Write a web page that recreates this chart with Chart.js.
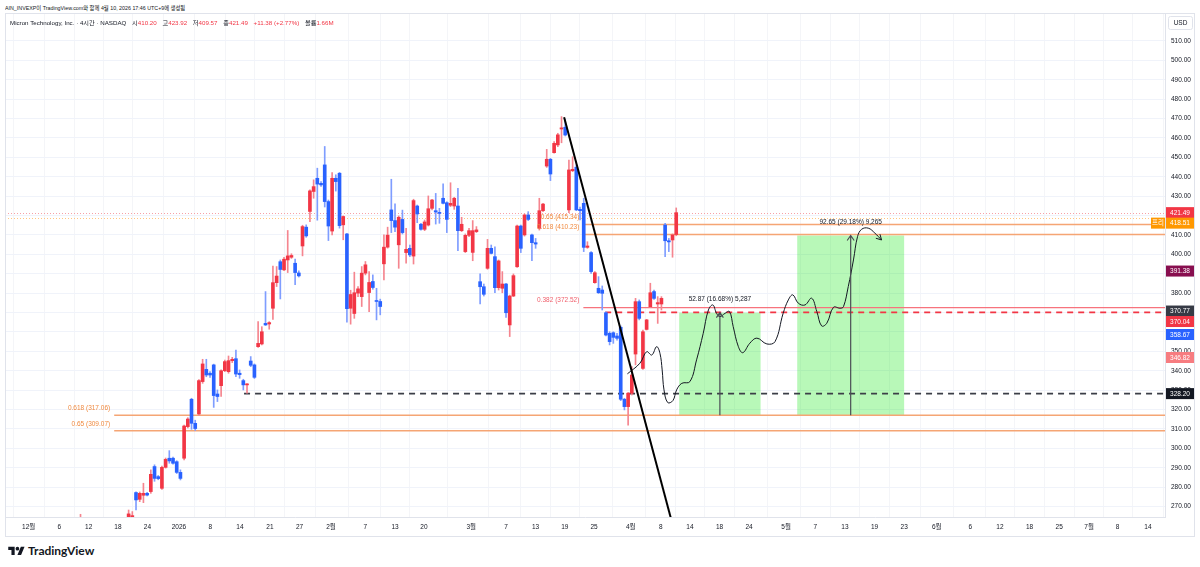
<!DOCTYPE html>
<html>
<head>
<meta charset="utf-8">
<script src="https://cdn.jsdelivr.net/npm/chart.js@4.4.1/dist/chart.umd.min.js"></script>
<style>
  body { margin: 0; background: #fff; width: 1200px; height: 567px; overflow: hidden; position: relative;
         font-family: 'Liberation Sans', 'Noto Sans CJK KR', sans-serif; color: #131722; }
  #hdr { position: absolute; left: 5px; top: 3px; font-size: 6.2px; white-space: nowrap; transform: scaleX(0.86); transform-origin: left top; }
  #legend { position: absolute; left: 10px; top: 18px; font-size: 6.2px; white-space: nowrap; }
  #legend .r { color: #f23645; }
  #legend .g { margin-left: 4px; }
  #c { position: absolute; left: 5px; top: 13px; }
  #logo { position: absolute; left: 8px; top: 543px; font-size: 12px; font-weight: 700; display: flex; align-items: center; gap: 3px;
          font-family: 'Lato', 'Liberation Sans', sans-serif; }
</style>
</head>
<body>
<div id="hdr">AIN_INVEXP이 TradingView.com와 함께 4월 10, 2026 17:46 UTC+9에 생성됨</div>
<canvas id="c" width="1190" height="524"></canvas>
<div id="legend">Micron Technology, Inc. · 4시간 · NASDAQ
  <span class="g">시</span><span class="r">410.20</span>
  <span class="g">고</span><span class="r">423.92</span>
  <span class="g">저</span><span class="r">409.57</span>
  <span class="g">종</span><span class="r">421.49</span>
  <span class="r g">+11.38 (+2.77%)</span>
  <span class="g">볼륨</span><span class="r">1.66M</span>
</div>
<div id="logo">
  <svg width="17" height="11" viewBox="0 0 36 24"><path d="M14 22H7V11H0V4h14v18z" fill="#131722"/><circle cx="20" cy="8" r="4" fill="#131722"/><path d="M28 22h-8l7.5-18h8L28 22z" fill="#131722"/></svg>
  <span>TradingView</span>
</div>
<script>
// --- MU 4h candles (bar index; index 0 = 1 Dec) ---
const barStart = 15;
const opens = [258, null, null, null, null, null, null, null, null, null, null, null, null,
  263.5, 264.5, 277.2, 273.7, 275.8, 276.8, 277.7, 290.6, 285.4, 279.4,
  290.2, 294.9, 294.9, 293.1, 287.6, 294.9, 311.2, 325.3, 312.9, 317.7,
  334.4, 340.7, 338.7, 343.0, 328.0, 332.3, 340.0, 339.5, 345.2, 346.2,
  338.7, 334.9, 332.7, 345.0, 343.0, 352.4, 353.8, 364.4, 364.1, 372.2,
  385.4, 396.2, 392.0, 397.1, 398.5, 395.4, 390.4, 404.3, 414.0, 422.1,
  432.4, 439.2, 436.6, 446.1, 427.2, 412.0, 439.2, 441.8, 415.2, 410.5,
  372.2, 369.5, 380.0, 378.2, 390.3, 380.3, 386.0, 376.0, 375.7, 395.1,
  403.7, 422.9, 417.4, 404.9, 418.0, 400.9, 403.1, 399.1, 424.9, 415.5,
  412.9, 415.1, 423.7, 422.5, 421.6, 428.9, 426.6, 425.3, 424.9, 424.9,
  412.2, 401.4, 409.8, 401.0, 411.7, 385.9, 383.3, 392.8, 403.1, 398.8,
  382.8, 382.5, 384.7, 363.6, 378.5, 393.6, 414.6, 410.0, 420.3, 410.0,
  406.0, 413.4, 422.5, 445.5, 449.0, 452.4, 456.4, 464.6, 465.5, 422.9,
  443.1, 444.9, 423.2, 426.3, 403.6, 400.9, 385.4, 382.5, 381.6, 369.9,
  359.3, 359.6, 357.9, 362.4, 325.3, 321.5, 328.4, 348.6, 375.6, 341.2,
  361.3, 373.0, 380.8, 374.4, 374.4, 415.1, 407.0, 407.4, 410.20];
const highs = [266, null, null, null, null, null, null, null, null, null, null, null, null,
  268.2, 267.4, 277.6, 277.5, 282.0, 277.3, 288.9, 291.5, 286.0, 290.8,
  295.0, 298.8, 295.5, 293.6, 288.9, 312.0, 315.8, 325.8, 314.5, 335.5,
  345.9, 345.9, 339.5, 343.4, 330.1, 340.4, 345.5, 347.6, 346.9, 350.7,
  340.4, 335.6, 333.4, 347.3, 343.5, 365.3, 362.7, 380.8, 365.3, 394.0,
  393.7, 397.1, 398.5, 412.3, 400.3, 397.5, 391.5, 415.0, 415.2, 433.2,
  438.4, 444.4, 437.5, 455.6, 428.0, 442.2, 441.0, 442.2, 419.8, 410.8,
  381.5, 390.8, 383.4, 393.7, 396.3, 391.1, 389.4, 382.5, 376.9, 410.0,
  414.0, 438.7, 426.0, 419.8, 422.8, 413.4, 404.8, 428.4, 425.4, 416.0,
  417.7, 430.1, 428.4, 431.4, 423.7, 436.3, 427.1, 436.9, 429.4, 434.0,
  419.1, 410.5, 413.4, 417.4, 414.3, 389.9, 384.7, 407.7, 404.8, 403.9,
  397.1, 391.1, 385.1, 379.0, 389.9, 415.1, 415.1, 420.8, 422.0, 410.5,
  408.2, 428.9, 426.3, 454.1, 449.5, 458.1, 462.4, 471.0, 469.5, 448.6,
  450.3, 446.1, 424.3, 428.9, 406.5, 401.4, 391.1, 388.5, 383.7, 370.4,
  360.1, 360.1, 359.3, 363.1, 325.8, 328.8, 342.1, 377.3, 376.5, 361.0,
  366.5, 385.1, 381.6, 378.2, 378.2, 416.0, 408.2, 410.5, 423.92];
const lows = [255, null, null, null, null, null, null, null, null, null, null, null, null,
  262.0, 263.9, 268.2, 272.5, 272.0, 275.5, 276.8, 283.0, 283.8, 278.8,
  289.8, 292.3, 291.8, 287.0, 283.7, 294.0, 310.5, 309.8, 309.2, 317.0,
  333.5, 336.9, 336.5, 321.1, 324.1, 326.7, 339.5, 338.7, 344.2, 336.9,
  336.1, 330.1, 328.4, 342.1, 336.0, 352.0, 353.3, 363.3, 361.4, 366.5,
  383.4, 377.0, 391.6, 390.6, 397.9, 384.3, 388.3, 399.2, 408.8, 416.9,
  428.9, 417.6, 435.0, 424.4, 407.1, 410.0, 432.6, 413.5, 407.5, 365.0,
  364.0, 367.0, 378.2, 373.1, 389.4, 370.5, 382.0, 366.2, 368.8, 386.8,
  403.2, 411.2, 411.7, 392.8, 410.5, 395.4, 398.8, 395.0, 416.3, 412.5,
  412.2, 414.6, 422.9, 415.6, 416.0, 426.0, 411.2, 424.6, 423.2, 401.9,
  411.7, 400.9, 409.1, 396.7, 411.2, 374.4, 378.5, 392.3, 400.2, 380.2,
  381.6, 380.2, 367.5, 357.6, 378.2, 393.3, 400.9, 409.4, 417.4, 396.7,
  403.1, 412.5, 422.0, 444.8, 438.0, 452.1, 455.5, 457.5, 461.0, 421.5,
  442.6, 422.5, 417.7, 401.4, 403.1, 390.2, 385.1, 379.8, 371.3, 357.9,
  353.3, 354.1, 355.8, 324.6, 319.8, 312.0, 327.5, 343.0, 366.2, 340.7,
  361.0, 372.7, 376.8, 364.4, 371.3, 398.8, 401.4, 398.5, 409.57];
const closes = [263, null, null, null, null, null, null, null, null, null, null, null, null,
  266.2, 265.3, 273.4, 276.8, 276.8, 275.9, 286.6, 284.5, 284.4, 290.2,
  294.3, 293.5, 292.3, 287.6, 284.5, 311.5, 315.1, 312.9, 310.2, 334.9,
  343.5, 337.8, 337.8, 327.2, 326.7, 340.0, 344.7, 345.2, 345.9, 338.3,
  338.0, 332.7, 333.2, 342.8, 336.6, 354.1, 360.1, 363.6, 364.8, 385.4,
  388.8, 392.2, 397.5, 399.2, 399.4, 390.6, 388.9, 414.3, 409.5, 432.7,
  434.9, 436.2, 435.8, 427.2, 414.6, 439.2, 437.5, 414.8, 419.5, 372.0,
  379.3, 380.2, 382.2, 390.3, 394.6, 385.5, 382.9, 375.7, 373.1, 403.7,
  409.9, 417.4, 414.0, 419.1, 411.2, 402.6, 399.7, 427.7, 420.8, 412.9,
  416.7, 423.5, 428.0, 421.8, 421.1, 426.3, 418.0, 426.3, 428.9, 412.2,
  415.5, 409.8, 412.2, 412.2, 412.6, 383.3, 379.4, 403.1, 400.5, 382.8,
  396.6, 384.7, 369.9, 378.5, 389.0, 414.6, 403.1, 420.3, 418.0, 406.0,
  405.3, 422.5, 425.9, 449.0, 441.4, 457.2, 461.6, 465.2, 461.5, 443.5,
  443.8, 422.9, 422.5, 403.6, 404.3, 391.1, 390.5, 380.2, 379.9, 358.4,
  355.0, 357.2, 356.7, 325.3, 321.5, 328.4, 337.8, 375.6, 367.0, 360.1,
  366.2, 380.2, 377.3, 375.1, 377.3, 407.0, 406.4, 410.0, 421.49];

// --- axes ---
const tickPos = [1.0, 9.3, 17.2, 25.1, 33.1, 41.6, 50.1, 58.1, 66.2, 74.2, 82.7, 92.0, 100, 107.8,
  120.6, 130, 138, 145.9, 153.8, 163.7, 171.8, 179.7, 187.7, 195.7, 205.7, 213.6, 221.6, 229.6,
  237.6, 246.4, 255.5, 263.5, 271.5, 279.5, 287.6, 295.3, 303.5];
const tickLabels = ['12월', '6', '12', '18', '24', '2026', '8', '14', '21', '27', '2월', '7', '13', '20',
  '3월', '7', '13', '19', '25', '4월', '8', '14', '18', '24', '5월', '7', '13', '19',
  '23', '6월', '6', '12', '18', '25', '7월', '8', '14'];
const yTicks = [270, 280, 290, 300, 310, 320, 330, 340, 350, 360, 370, 380, 390, 400,
  410, 420, 430, 440, 450, 460, 470, 480, 490, 500, 510];

// --- drawings ---
const fibPrices = [317.06, 309.07, 415.34, 410.23, 372.52];
const fibFrom = [24.1, 24.1, 150.9, 150.9, 150.9];
const fibLabels = ['0.618 (317.06)', '0.65 (309.07)', '0.65 (415.34)', '0.618 (410.23)', '0.382 (372.52)'];
const dottedPrices = [421.49, 418.51];
const dashPrices = [328.20, 370.04];
const dashFrom = [59.2, 156.8];
const rangeBase = 317.06;
const rangeFrom = [176.8, 208.7];
const rangeTo = [198.8, 237.6];
const rangeChange = [52.87, 92.65];
const rangeLabels = ['52.87 (16.68%) 5,287', '92.65 (29.18%) 9,265'];
const trendX = [145.7, 174.6];
const trendY = [470.7, 263.6];
const curveX = [162.8, 166.2, 168.0, 169.4, 170.7, 171.6, 172.2, 172.7, 173.7, 175.1, 176.1, 177.5, 179.7,
  181.5, 183.3, 184.7, 185.9, 186.9, 187.8, 189.2, 190.4, 191.4, 192.8, 194.0, 195.9, 197.8, 200.5,
  202.7, 204.9, 206.3, 207.5, 209.0, 210.8, 212.6, 214.0, 215.3, 216.7, 218.5, 220.3, 221.2, 222.5,
  223.9, 225.0, 226.1, 227.9, 229.7, 231.5];
const curveY = [338.4, 343.9, 349.8, 348.1, 352.4, 349.0, 340.4, 330.1, 323.6, 324.6, 330.1, 333.5, 334.4,
  345.6, 359.3, 371.3, 373.9, 369.6, 367.9, 369.6, 370.5, 362.7, 352.4, 349.3, 354.2, 356.8, 353.8,
  355.0, 369.6, 376.5, 379.1, 374.8, 373.9, 377.4, 370.5, 363.1, 364.5, 372.7, 372.2, 373.0, 383.4,
  397.1, 409.1, 412.9, 413.5, 410.9, 407.4];
const axisPrices = [421.49, 418.51, 391.38, 370.77, 370.04, 358.67, 346.82, 328.20];

const RED = '#f23645', BLUE = '#2962ff';
const axisColors = [RED, '#ff9800', '#880e4f', '#363a45', RED, BLUE, '#f77c80', '#131722'];

const bodies = [], wicks = [], bodyCol = [], wickCol = [];
opens.forEach((o, k) => {
  if (o == null) return;
  const up = closes[k] >= o;
  bodies.push({ x: barStart + k, y: [o, closes[k]] });
  wicks.push({ x: barStart + k, y: [lows[k], highs[k]] });
  bodyCol.push(up ? RED : BLUE);
  wickCol.push(up ? '#f5858f' : '#7f9dff');
});

function hline(ctx, x0, x1, yy, color, width, dash) {
  ctx.beginPath();
  ctx.setLineDash(dash || []);
  ctx.strokeStyle = color;
  ctx.lineWidth = width;
  ctx.moveTo(x0, yy);
  ctx.lineTo(x1, yy);
  ctx.stroke();
  ctx.setLineDash([]);
}

const FONT = "6.5px 'Liberation Sans', 'Noto Sans CJK KR', sans-serif";

const drawings = {
  id: 'drawings',
  beforeDatasetsDraw(chart) {
    const { ctx, chartArea: a, scales: { x, y } } = chart;
    ctx.save();
    ctx.beginPath(); ctx.rect(a.left, a.top, a.width, a.height); ctx.clip();
    rangeFrom.forEach((f, k) => {
      const x0 = x.getPixelForValue(f), x1 = x.getPixelForValue(rangeTo[k]);
      const yb = y.getPixelForValue(rangeBase), yt = y.getPixelForValue(rangeBase + rangeChange[k]);
      ctx.fillStyle = 'rgba(0, 230, 0, 0.28)';
      ctx.fillRect(x0, yt, x1 - x0, yb - yt);
    });
    hline(ctx, a.left, a.right, Math.round(y.getPixelForValue(dottedPrices[0])) + 0.5, '#f7a1a8', 1, [1, 2]);
    hline(ctx, a.left, a.right, Math.round(y.getPixelForValue(dottedPrices[1])) + 0.5, '#ffc680', 1, [1, 2]);
    fibPrices.forEach((p, k) => {
      const col = k === 4 ? '#f7737d' : '#f5a574';
      hline(ctx, x.getPixelForValue(fibFrom[k]), a.right, y.getPixelForValue(p), col, k === 4 ? 1.2 : 1.6);
    });
    dashPrices.forEach((p, k) => {
      hline(ctx, x.getPixelForValue(dashFrom[k]), a.right, y.getPixelForValue(p),
        k === 0 ? '#3b3e47' : RED, 1.8, [6, 5]);
    });
    ctx.restore();
  },
  afterDatasetsDraw(chart) {
    const { ctx, chartArea: a, scales: { x, y } } = chart;
    ctx.save();
    ctx.beginPath(); ctx.rect(a.left, a.top, a.width, a.height); ctx.clip();
    ctx.font = FONT;
    // fib labels
    fibPrices.forEach((p, k) => {
      ctx.fillStyle = k === 4 ? '#f0616d' : '#f08a40';
      ctx.textAlign = 'right';
      ctx.textBaseline = 'middle';
      ctx.fillText(fibLabels[k], x.getPixelForValue(fibFrom[k]) - 4, y.getPixelForValue(p) - 7);
    });
    // price range arrows and labels
    rangeFrom.forEach((f, k) => {
      const cx = (x.getPixelForValue(f) + x.getPixelForValue(rangeTo[k])) / 2;
      const yb = y.getPixelForValue(rangeBase), yt = y.getPixelForValue(rangeBase + rangeChange[k]);
      ctx.strokeStyle = '#4a4d55';
      ctx.lineWidth = 1.2;
      ctx.beginPath();
      ctx.moveTo(cx, yb); ctx.lineTo(cx, yt);
      ctx.moveTo(cx - 3.5, yt + 5); ctx.lineTo(cx, yt); ctx.lineTo(cx + 3.5, yt + 5);
      ctx.stroke();
      ctx.fillStyle = '#131722';
      ctx.textAlign = 'center';
      ctx.textBaseline = 'middle';
      ctx.fillText(rangeLabels[k], cx, yt - 13);
    });
    // arrow head at the end of the sketch
    const n = curveX.length;
    const ex = x.getPixelForValue(curveX[n - 1]), ey = y.getPixelForValue(curveY[n - 1]);
    const px = x.getPixelForValue(curveX[n - 2]), py = y.getPixelForValue(curveY[n - 2]);
    const ang = Math.atan2(ey - py, ex - px);
    ctx.strokeStyle = '#131722';
    ctx.lineWidth = 1;
    ctx.beginPath();
    ctx.moveTo(ex - 6 * Math.cos(ang - 0.5), ey - 6 * Math.sin(ang - 0.5));
    ctx.lineTo(ex, ey);
    ctx.lineTo(ex - 6 * Math.cos(ang + 0.5), ey - 6 * Math.sin(ang + 0.5));
    ctx.stroke();
    ctx.restore();
  },
  afterDraw(chart) {
    const { ctx, chartArea: a, scales: { y } } = chart;
    ctx.save();
    ctx.font = FONT;
    ctx.textAlign = 'center';
    ctx.textBaseline = 'middle';
    // price labels on the axis, pushed down when they collide
    let last = -99;
    axisPrices.forEach((p, k) => {
      let yy = y.getPixelForValue(p);
      if (yy < last + 10.5) yy = last + 10.5;
      last = yy;
      ctx.fillStyle = axisColors[k];
      ctx.fillRect(a.right + 1, yy - 5.5, 28, 11);
      if (k === 1) {
        ctx.fillRect(a.right - 14, yy - 5.5, 14, 11);
        ctx.fillStyle = '#fff';
        ctx.fillText('프리', a.right - 7, yy + 0.5);
      }
      ctx.fillStyle = '#fff';
      ctx.fillText(p.toFixed(2), a.right + 15, yy + 0.5);
    });
    // currency box
    ctx.strokeStyle = '#e0e3eb';
    ctx.lineWidth = 1;
    ctx.fillStyle = '#fff';
    ctx.beginPath();
    ctx.roundRect(a.right + 3.5, 3.5, 24, 13, 2);
    ctx.fill(); ctx.stroke();
    ctx.fillStyle = '#131722';
    ctx.fillText('USD', a.right + 15.5, 10.5);
    // frame
    ctx.strokeStyle = '#e0e3eb';
    ctx.strokeRect(0.5, 0.5, chart.width - 1, chart.height - 1);
    ctx.restore();
  }
};

Chart.defaults.font.family = "'Liberation Sans', 'Noto Sans CJK KR', sans-serif";

new Chart(document.getElementById('c'), {
  type: 'bar',
  data: {
    datasets: [
      {
        type: 'line',
        data: trendX.map((v, k) => ({ x: v, y: trendY[k] })),
        borderColor: '#000',
        borderWidth: 2,
        pointRadius: 0
      },
      {
        type: 'line',
        data: curveX.map((v, k) => ({ x: v, y: curveY[k] })),
        borderColor: '#131722',
        borderWidth: 1,
        tension: 0.4,
        pointRadius: 0
      },
      {
        data: bodies,
        backgroundColor: bodyCol,
        barThickness: 3,
        minBarLength: 1,
        grouped: false
      },
      {
        data: wicks,
        backgroundColor: wickCol,
        barThickness: 1,
        grouped: false
      }
    ]
  },
  options: {
    responsive: false,
    devicePixelRatio: 1,
    animation: false,
    events: [],
    layout: { padding: 0 },
    plugins: { legend: { display: false }, tooltip: { enabled: false } },
    scales: {
      x: {
        type: 'linear',
        min: -5.41,
        max: 308.1,
        offset: false,
        grid: { color: '#f4f5f8', drawTicks: false },
        border: { color: '#e0e3eb' },
        ticks: {
          autoSkip: false, maxRotation: 0, padding: 6, color: '#131722',
          font: { size: 6.5 },
          callback: (v, i) => tickLabels[i]
        },
        afterBuildTicks: s => { s.ticks = tickPos.map(v => ({ value: v })); },
        afterFit: s => { s.height = 20; s.paddingLeft = 0; s.paddingRight = 0; s.paddingTop = 0; s.paddingBottom = 0; }
      },
      y: {
        type: 'linear',
        position: 'right',
        min: 264.6,
        max: 524.4,
        grid: { color: '#f0f3fa', drawTicks: false },
        border: { color: '#e0e3eb' },
        ticks: {
          padding: 6, color: '#131722', font: { size: 6.5 },
          callback: v => v.toFixed(2)
        },
        afterBuildTicks: s => { s.ticks = yTicks.map(v => ({ value: v })); },
        afterFit: s => { s.width = 30; s.paddingTop = 0; s.paddingBottom = 0; s.paddingLeft = 0; s.paddingRight = 0; }
      }
    }
  },
  plugins: [drawings]
});
</script>
</body>
</html>
